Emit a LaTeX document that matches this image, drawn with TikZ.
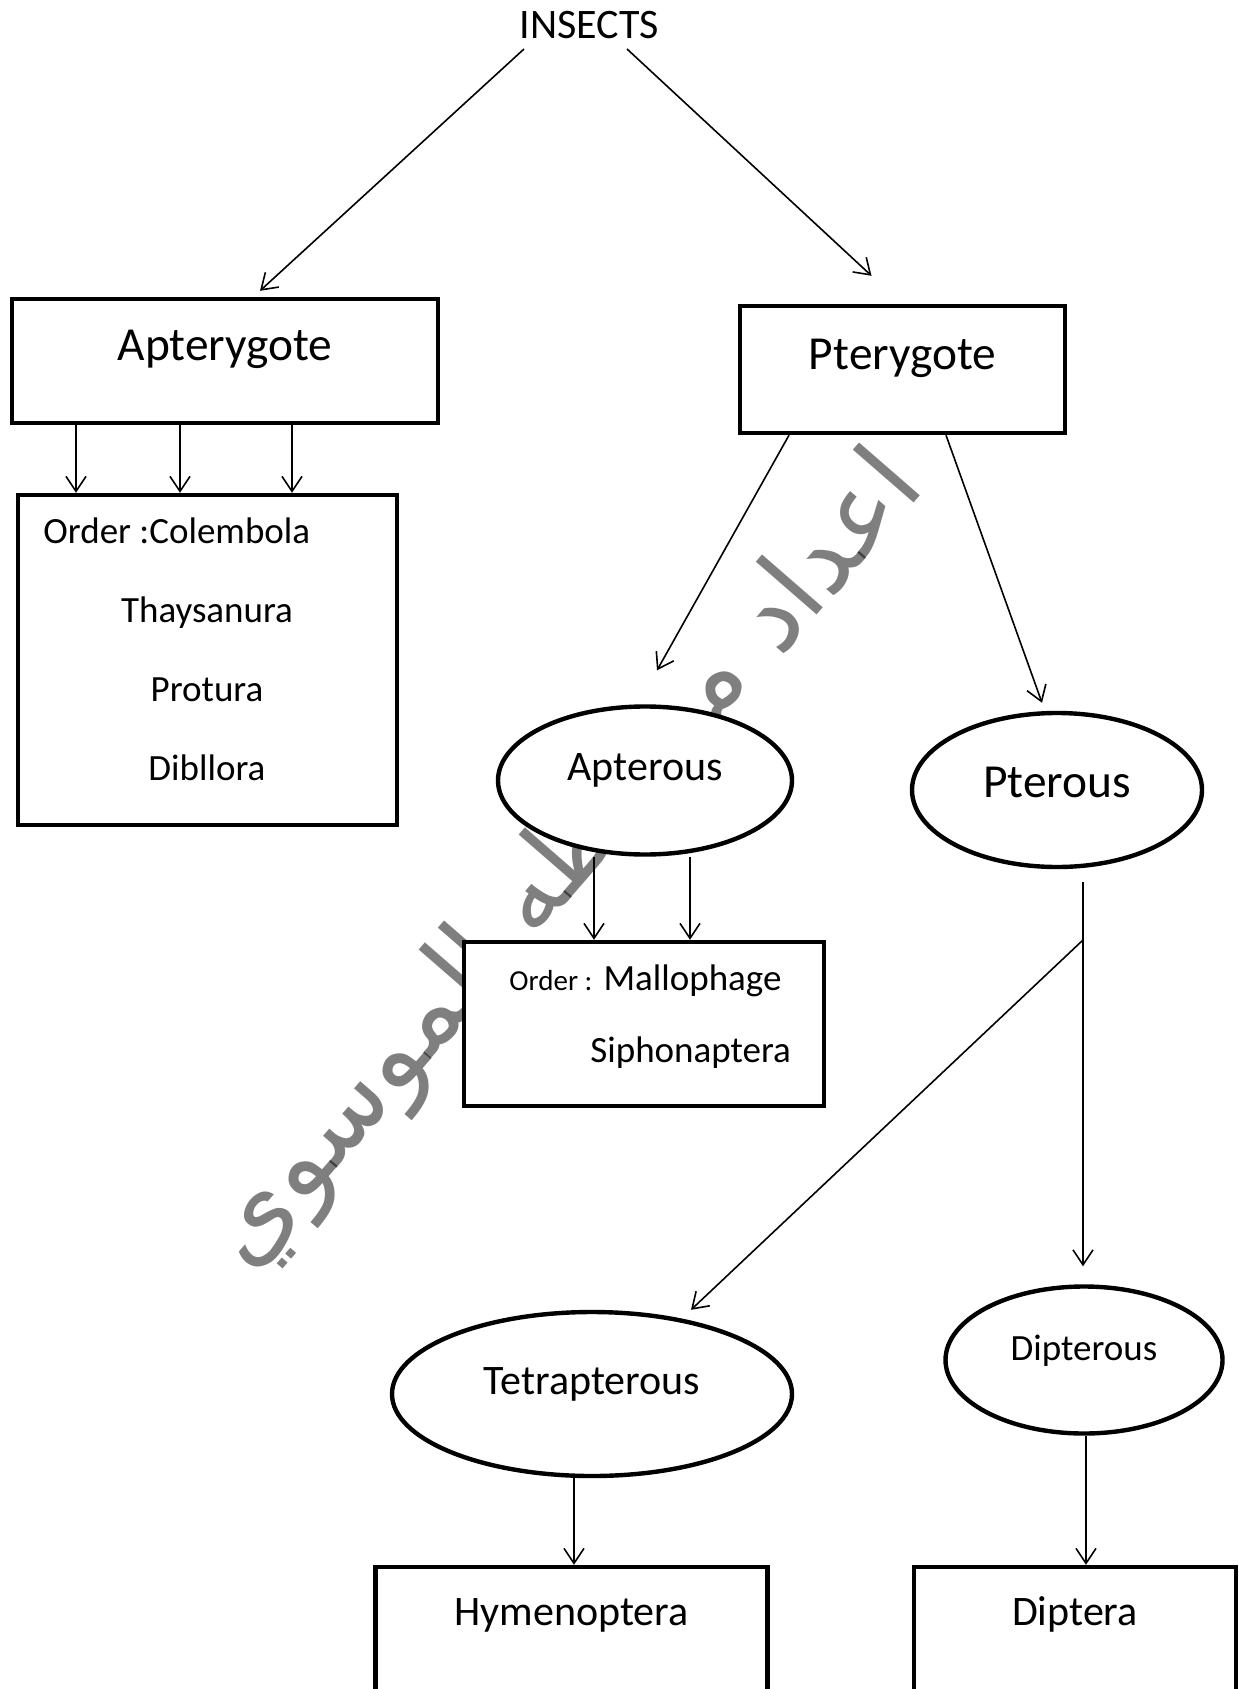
\documentclass[tikz,border=0pt]{standalone}
\usepackage{fontspec}
\setmainfont{Carlito}
\newfontfamily\arabicfont[Script=Arabic]{DejaVu Sans}
\TeXXeTstate=1
\usetikzlibrary{arrows.meta,calc,shapes.geometric}

\begin{document}
\begin{tikzpicture}[x=0.5pt,y=-0.5pt,
  box/.style={draw,line width=2.2pt,fill=white,inner sep=0pt,text height=8pt,text depth=8pt},
  oval/.style={ellipse,draw,line width=2.2pt,fill=white,inner sep=0pt,text height=8pt,text depth=8pt},
  arr/.style={-{Straight Barb[length=7.5pt,width=10pt]},line width=0.8pt}]
  \useasboundingbox (0,0) rectangle (1238,1689);
  \clip (0,0) rectangle (1238,1689);
  \fill[white] (0,0) rectangle (1238,1689);

  \node[rotate=49,text=black,text opacity=0.5,font=\fontsize{53}{60}\selectfont\arabicfont] (mark) at (566,862) {\beginR اعداد م.م طه الموسوي\endR};

  \node[anchor=base,inner sep=0pt,font=\fontsize{21}{25}\selectfont] (ins) at (589,39) {INSECTS};
  \node[box,minimum width=213pt,minimum height=62pt,font=\fontsize{23.7}{28}\selectfont] (apt) at (225,361) {Apterygote};
  \node[box,minimum width=162.5pt,minimum height=63.5pt,font=\fontsize{23.7}{28}\selectfont] (pty) at (902.5,369.5) {Pterygote};

  \node[box,minimum width=189.5pt,minimum height=165pt] (ord) at (207.5,660) {};
  \node[anchor=base west,inner sep=0pt,font=\fontsize{18.5}{22}\selectfont] (o1) at (43,544) {Order :Colembola};
  \foreach \y/\n/\t in {622/o2/Thaysanura, 701/o3/Protura, 780/o4/Dibllora}{
  \node[anchor=base,inner sep=0pt,font=\fontsize{18.5}{22}\selectfont] (\n) at (207,\y) {\t}; }

  \node[oval,minimum width=147pt,minimum height=74pt,font=\fontsize{21}{25}\selectfont] (aps) at (645,780.5) {Apterous};
  \node[oval,minimum width=145pt,minimum height=77pt,text depth=1pt,font=\fontsize{23.7}{28}\selectfont] (pts) at (1057,790) {Pterous};

  \node[box,minimum width=180pt,minimum height=82pt] (mal) at (644,1024) {};
  \node[anchor=base west,inner sep=0pt,font=\fontsize{18.5}{22}\selectfont] (m1) at (509,990) {{\fontsize{14.5}{17}\selectfont Order :} Mallophage};
  \node[anchor=base west,inner sep=0pt,font=\fontsize{18.5}{22}\selectfont] (m2) at (590,1062) {Siphonaptera};

  \node[oval,minimum width=200pt,minimum height=82pt,font=\fontsize{21}{25}\selectfont] (tet) at (592,1394) {Tetrapterous};
  \node[oval,minimum width=138.5pt,minimum height=73.5pt,font=\fontsize{18.5}{22}\selectfont] (dip) at (1084,1360) {Dipterous};

  \node[box,minimum width=196pt,minimum height=65pt,text depth=15pt,font=\fontsize{21}{25}\selectfont] (hym) at (571.5,1632) {Hymenoptera};
  \node[box,minimum width=161pt,minimum height=65pt,text depth=15pt,font=\fontsize{21}{25}\selectfont] (dipt) at (1075,1632) {Diptera};

  \draw[arr] ($(ins.base)+(-65,10)$) -- ($(apt.north)+(35,-6)$);
  \draw[arr] ($(ins.base)+(38,10)$) -- ($(pty.north)+(-31,-28)$);
  \foreach \x in {76,180,292}
   \draw[arr] (\x,0 |- apt.south) -- (\x,0 |- ord.north);

  \draw[arr] (789,0 |- pty.south) -- ($(aps.north)+(12,-34)$);
  \draw[arr] (946,0 |- pty.south) -- ($(pts.north)+(-15,-8)$);
  \foreach \x in {594,690}
   \draw[arr] (\x,0 |- aps.south) -- (\x,0 |- mal.north);

  \coordinate (drop) at (1083,882);
  \coordinate (fork) at (1083,940);
  \draw[line width=0.8pt] (drop) -- (fork);
  \draw[arr] (fork) -- ($(tet.north)+(99,0)$);
  \draw[arr] (fork) -- ($(fork |- dip.north)+(0,-18)$);

  \draw[arr] (574,0 |- tet.south) -- (574,0 |- hym.north);
  \draw[arr] (1086,0 |- dip.south) -- (1086,0 |- dipt.north);
\end{tikzpicture}
\end{document}
